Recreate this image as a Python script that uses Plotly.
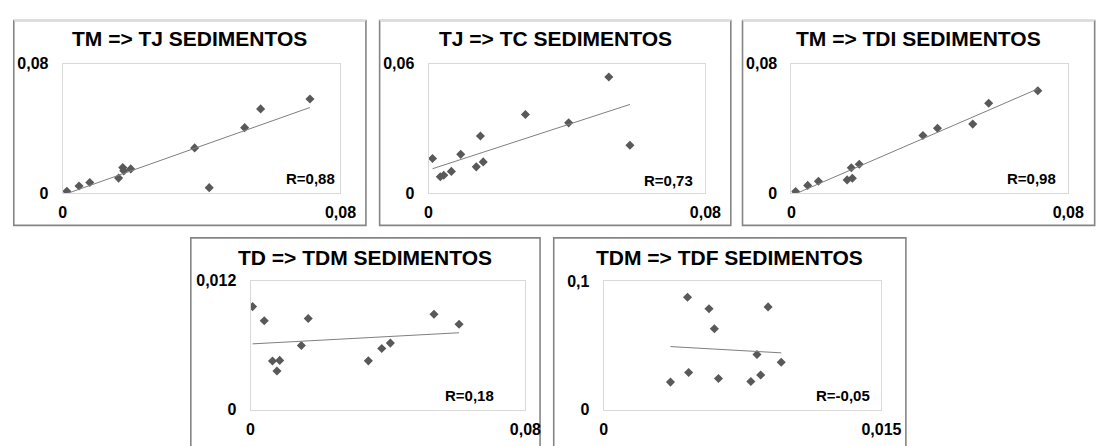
import numpy as np
import plotly.graph_objects as go

# Sediment samples: concentrations per compartment
tm = [0.0012, 0.0047, 0.0078, 0.0161, 0.0173, 0.0176, 0.0196, 0.0380, 0.0422, 0.0524, 0.0570, 0.0712]
tj = [0.00115, 0.0044, 0.0066, 0.0093, 0.0158, 0.0138, 0.0150, 0.0280, 0.0034, 0.0405, 0.0521, 0.0582]
tc = [0.0161, 0.0083, 0.0101, 0.0180, 0.0145, 0.0122, 0.0265, 0.0365, 0.0076, 0.0326, 0.0539, 0.0222]
tdi = [0.0010, 0.0048, 0.0074, 0.0082, 0.0157, 0.0092, 0.0179, 0.0357, 0.0401, 0.0427, 0.0556, 0.0633]

td = [0.0006, 0.0040, 0.0064, 0.0085, 0.0077, 0.0148, 0.0168, 0.0343, 0.0382, 0.0407, 0.0534, 0.0607]
tdm = [0.00959, 0.00828, 0.00453, 0.00459, 0.00361, 0.00598, 0.00848, 0.00455, 0.00569, 0.00620, 0.00888, 0.00795]
tdf = [0.0370, 0.0430, 0.0875, 0.0290, 0.0215, 0.0630, 0.0270, None, 0.0785, 0.0243, 0.0800, 0.0220]

titles = ["TM => TJ SEDIMENTOS", "TJ => TC SEDIMENTOS", "TM => TDI SEDIMENTOS",
          "TD => TDM SEDIMENTOS", "TDM => TDF SEDIMENTOS"]
r_labels = ["R=0,88", "R=0,73", "R=0,98", "R=0,18", "R=-0,05"]
x_max = [0.08, 0.08, 0.08, 0.08, 0.015]
y_max = [0.08, 0.06, 0.08, 0.012, 0.1]
pairs = [(tm, tj), (tj, tc), (tm, tdi), (td, tdm), (tdm, tdf)]

W, H = 1100, 446
FONT = "Liberation Sans, Arial, sans-serif"

# layout boxes in pixels: panel frame, plot area, title centre, R label anchor
frames = [(10, 13, 370, 226), (384, 13, 743, 226), (755, 13, 1115, 226),
          (191, 239, 548, 460), (562, 239, 922, 460)]
plots = [(60, 58, 344, 192.5), (434, 58, 717, 192.5), (805, 58, 1088, 192.5),
         (252, 283.5, 533, 417.7), (613, 284, 897, 417.7)]
title_pos = [(190, 32), (563.5, 32), (935, 32), (369.5, 259), (742, 259)]
r_pos = [(340, 177), (706, 179), (1077, 177), (503, 403), (887, 403)]


def px(x):
    return x / W


def py(y):
    return 1 - y / H


def fmt(v):
    return ("%g" % v).replace(".", ",")


fig = go.Figure()
layout = dict(
    width=W, height=H, margin=dict(l=0, r=0, t=0, b=0),
    paper_bgcolor="white", plot_bgcolor="white", showlegend=False,
    font=dict(family=FONT, color="black"),
)
shapes = []
annotations = []

for i, ((xs, ys), (l, t, r, b)) in enumerate(zip(pairs, plots)):
    n = i + 1
    xa = "x" if n == 1 else f"x{n}"
    ya = "y" if n == 1 else f"y{n}"
    xv = np.array(xs, dtype=float)
    yv = np.array([np.nan if v is None else v for v in ys], dtype=float)
    ok = np.isfinite(xv) & np.isfinite(yv)

    fig.add_trace(go.Scatter(
        x=xv[ok], y=yv[ok], mode="markers", xaxis=xa, yaxis=ya,
        marker=dict(symbol="diamond", size=7, color="#595959", line=dict(width=0)),
        hoverinfo="x+y",
    ))
    # linear trend line over the data range
    slope, icpt = np.polyfit(xv[ok], yv[ok], 1)
    xl = np.array([xv[ok].min(), xv[ok].max()])
    fig.add_trace(go.Scatter(
        x=xl, y=slope * xl + icpt, mode="lines", xaxis=xa, yaxis=ya,
        line=dict(color="#7f7f7f", width=1), hoverinfo="skip",
    ))

    axis_common = dict(
        showgrid=False, zeroline=False, showline=True, mirror=True,
        linecolor="#d9d9d9", linewidth=1, ticks="",
        tickfont=dict(family=FONT, size=16, color="black", weight="bold"),
    )
    layout["xaxis" if n == 1 else f"xaxis{n}"] = dict(
        axis_common, domain=[px(l), px(r)], anchor=ya, range=[0, x_max[i]],
        tickmode="array", tickvals=[0, x_max[i]], ticktext=[fmt(0), fmt(x_max[i])],
        ticklabelstandoff=5,
    )
    layout["yaxis" if n == 1 else f"yaxis{n}"] = dict(
        axis_common, domain=[py(b), py(t)], anchor=xa, range=[0, y_max[i]],
        tickmode="array", tickvals=[0, y_max[i]], ticktext=[fmt(0), fmt(y_max[i])],
        ticklabelstandoff=10,
    )

    fl, ft, fr, fb = frames[i]
    shapes.append(dict(type="rect", xref="paper", yref="paper",
                       x0=px(fl), x1=px(fr), y0=py(fb), y1=py(ft),
                       line=dict(color="#858585", width=1.6), fillcolor="rgba(0,0,0,0)",
                       layer="below"))
    if ft < 100:
        shapes.append(dict(type="line", xref="paper", yref="paper",
                           x0=px(fl), x1=px(fr), y0=py(ft), y1=py(ft),
                           line=dict(color="#dcdcdc", width=1.6)))

    tx, ty = title_pos[i]
    annotations.append(dict(
        text=f"<b>{titles[i]}</b>", xref="paper", yref="paper",
        x=px(tx), y=py(ty), xanchor="center", yanchor="middle", showarrow=False,
        font=dict(family=FONT, size=21, color="black"),
    ))
    rx, ry = r_pos[i]
    annotations.append(dict(
        text=f"<b>{r_labels[i]}</b>", xref="paper", yref="paper",
        x=px(rx), y=py(ry), xanchor="right", yanchor="middle", showarrow=False,
        font=dict(family=FONT, size=15, color="black"),
    ))

layout["shapes"] = shapes
layout["annotations"] = annotations
fig.update_layout(**layout)
fig.write_html("out.html")
